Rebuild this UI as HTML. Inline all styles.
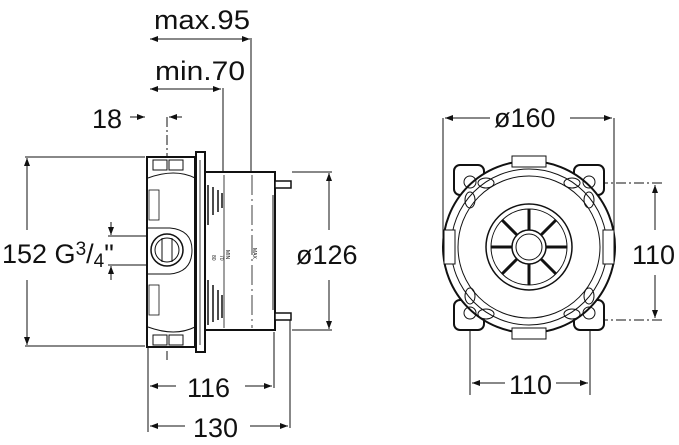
<!DOCTYPE html>
<html><head><style>body{margin:0;background:#fff}svg{display:block}text{font-family:"Liberation Sans",sans-serif;fill:#111}</style></head><body>
<svg width="679" height="445" viewBox="0 0 679 445" xmlns="http://www.w3.org/2000/svg">
<defs>
<marker id="a" markerWidth="8" markerHeight="6" refX="8" refY="3" orient="auto" markerUnits="userSpaceOnUse"><path d="M0,0 L8,3 L0,6 Z" fill="#111"/></marker>
</defs>
<g stroke="#111" stroke-width="1" fill="none">
<line x1="200" y1="39" x2="150" y2="39" marker-end="url(#a)"/><line x1="200" y1="39" x2="250" y2="39" marker-end="url(#a)"/>
<line x1="251" y1="38" x2="251" y2="172"/>
<line x1="186" y1="89" x2="150" y2="89" marker-end="url(#a)"/><line x1="186" y1="89" x2="221" y2="89" marker-end="url(#a)"/>
<line x1="223" y1="88" x2="223" y2="172"/>
<line x1="130" y1="117" x2="145" y2="117" marker-end="url(#a)"/><line x1="182" y1="117" x2="169" y2="117" marker-end="url(#a)"/>
<line x1="167" y1="117" x2="167" y2="360" stroke-dasharray="10,3,2,3"/>
<line x1="25" y1="157" x2="145" y2="157"/><line x1="25" y1="346" x2="145" y2="346"/>
<line x1="27" y1="230" x2="27" y2="158" marker-end="url(#a)"/><line x1="27" y1="280" x2="27" y2="345" marker-end="url(#a)"/>
<line x1="108" y1="236" x2="150" y2="236"/><line x1="108" y1="265" x2="150" y2="265"/>
<line x1="111" y1="222" x2="111" y2="235" marker-end="url(#a)"/><line x1="111" y1="280" x2="111" y2="266" marker-end="url(#a)"/>
<line x1="292" y1="172" x2="332" y2="172"/><line x1="292" y1="330" x2="332" y2="330"/>
<line x1="329" y1="230" x2="329" y2="173" marker-end="url(#a)"/><line x1="329" y1="280" x2="329" y2="329" marker-end="url(#a)"/>
<line x1="148" y1="346" x2="148" y2="432"/>
<line x1="274" y1="332" x2="274" y2="388"/><line x1="290" y1="320" x2="290" y2="428"/>
<line x1="176" y1="386" x2="150" y2="386" marker-end="url(#a)"/><line x1="245" y1="386" x2="272" y2="386" marker-end="url(#a)"/>
<line x1="185" y1="426" x2="150" y2="426" marker-end="url(#a)"/><line x1="250" y1="426" x2="288" y2="426" marker-end="url(#a)"/>
</g>
<g stroke="#111" fill="#fff">
<rect x="147" y="157" width="48" height="190" stroke-width="2"/>
<rect x="153" y="160" width="14" height="10" stroke-width="1"/><rect x="169" y="160" width="14" height="10" stroke-width="1"/>
<rect x="153" y="335" width="14" height="10" stroke-width="1"/><rect x="169" y="335" width="14" height="10" stroke-width="1"/>
<path d="M148,178 Q175,168 195,178 M148,327 Q175,337 195,327" fill="none" stroke-width="1"/>
<path d="M148,228 L170,228 Q192,230 192,250 Q192,272 170,274 L148,274" stroke-width="1"/>
<circle cx="167" cy="250" r="16" stroke-width="1.5"/><circle cx="167" cy="250" r="12" stroke-width="1"/>
<line x1="162" y1="238" x2="162" y2="262" stroke-width="1"/><line x1="172" y1="238" x2="172" y2="262" stroke-width="1"/>
<rect x="149" y="190" width="10" height="30" stroke-width="0.8"/><rect x="149" y="285" width="10" height="30" stroke-width="0.8"/>
<rect x="196" y="152" width="9" height="200" stroke-width="2"/>
<line x1="200" y1="160" x2="200" y2="345" stroke-width="0.8"/>
<rect x="205" y="172" width="70" height="158" stroke-width="2"/>
<line x1="273" y1="195" x2="273" y2="310" stroke-width="1"/>
<rect x="275" y="181" width="16" height="7" stroke-width="1.5"/><rect x="275" y="313" width="16" height="7" stroke-width="1.5"/>
<line x1="224" y1="175" x2="224" y2="328" stroke-width="0.8"/>
<line x1="252" y1="175" x2="252" y2="328" stroke-width="0.8" stroke-dasharray="20,4,2,4"/>
</g>
<g stroke="#111" stroke-width="1.5">
<line x1="208" y1="185" x2="208" y2="225"/><line x1="213" y1="187" x2="213" y2="215"/><line x1="218" y1="190" x2="218" y2="212"/><line x1="222" y1="193" x2="222" y2="208"/>
<line x1="208" y1="280" x2="208" y2="325"/><line x1="213" y1="285" x2="213" y2="322"/><line x1="218" y1="290" x2="218" y2="320"/><line x1="222" y1="295" x2="222" y2="318"/>
</g>
<text x="212" y="255" font-size="5" transform="rotate(90 212 255)">80</text>
<text x="220" y="255" font-size="5" transform="rotate(90 220 255)">70</text>
<text x="226" y="250" font-size="5" transform="rotate(90 226 250)">MIN</text>
<text x="253" y="248" font-size="5" transform="rotate(90 253 248)">MAX</text>
<g stroke="#111" fill="none">
<line x1="443" y1="118" x2="443" y2="240"/><line x1="614" y1="118" x2="614" y2="240"/>
<line x1="490" y1="118" x2="445" y2="118" marker-end="url(#a)"/><line x1="570" y1="118" x2="612" y2="118" marker-end="url(#a)"/>
<line x1="598" y1="183" x2="662" y2="183" stroke-dasharray="10,3,2,3"/><line x1="598" y1="320" x2="662" y2="320" stroke-dasharray="10,3,2,3"/>
<line x1="655" y1="230" x2="655" y2="185" marker-end="url(#a)"/><line x1="655" y1="275" x2="655" y2="318" marker-end="url(#a)"/>
<line x1="470" y1="330" x2="470" y2="395"/><line x1="590" y1="330" x2="590" y2="395"/>
<line x1="505" y1="383" x2="472" y2="383" marker-end="url(#a)"/><line x1="556" y1="383" x2="588" y2="383" marker-end="url(#a)"/>
</g>
<g stroke="#111" fill="#fff">
<rect x="454" y="165" width="30" height="30" rx="6" stroke-width="2"/>
<rect x="574" y="165" width="30" height="30" rx="6" stroke-width="2"/>
<rect x="454" y="300" width="30" height="30" rx="6" stroke-width="2"/>
<rect x="574" y="300" width="30" height="30" rx="6" stroke-width="2"/>
<circle cx="529" cy="247" r="86" stroke-width="2"/>
</g>
<g stroke="#111" fill="none">
<circle cx="529" cy="247" r="78" stroke-width="1"/>
<circle cx="529" cy="247" r="71" stroke-width="1"/>
<circle cx="529" cy="247" r="43" stroke-width="1.5"/><circle cx="529" cy="247" r="38" stroke-width="1"/>
<circle cx="529" cy="247" r="17" stroke-width="1.5"/><circle cx="529" cy="247" r="13" stroke-width="1"/>
<path d="M529,209 V230 M529,264 V285 M491,247 H512 M546,247 H567 M502,220 L517,235 M541,259 L556,274 M556,220 L541,235 M517,259 L502,274" stroke-width="3"/>
<circle cx="470" cy="182" r="6"/><circle cx="589" cy="182" r="6"/><circle cx="470" cy="313" r="6"/><circle cx="589" cy="313" r="6"/>
<ellipse cx="486" cy="183" rx="8" ry="5"/><ellipse cx="572" cy="183" rx="8" ry="5"/><ellipse cx="486" cy="314" rx="8" ry="5"/><ellipse cx="572" cy="314" rx="8" ry="5"/>
<ellipse cx="470" cy="200" rx="5" ry="8"/><ellipse cx="589" cy="200" rx="5" ry="8"/><ellipse cx="470" cy="296" rx="5" ry="8"/><ellipse cx="589" cy="296" rx="5" ry="8"/>
</g>
<g stroke="#111" fill="#fff">
<rect x="512" y="156" width="34" height="11"/><rect x="512" y="328" width="34" height="11"/>
<rect x="444" y="230" width="11" height="34"/><rect x="603" y="230" width="11" height="34"/>
</g>
<g font-size="27">
<text x="154" y="29" textLength="96" lengthAdjust="spacingAndGlyphs">max.95</text>
<text x="155" y="80" textLength="90" lengthAdjust="spacingAndGlyphs">min.70</text>
<text x="92" y="128">18</text>
<text x="2" y="263">152 G<tspan font-size="19" dy="-8">3</tspan><tspan dy="8">/</tspan><tspan font-size="19" dy="4">4</tspan><tspan dy="-4">"</tspan></text>
<text x="296" y="264">ø126</text>
<text x="187" y="397">116</text>
<text x="193" y="437">130</text>
<text x="494" y="127">ø160</text>
<text x="632" y="264">110</text>
<text x="509" y="394">110</text>
</g>
</svg>
</body></html>
